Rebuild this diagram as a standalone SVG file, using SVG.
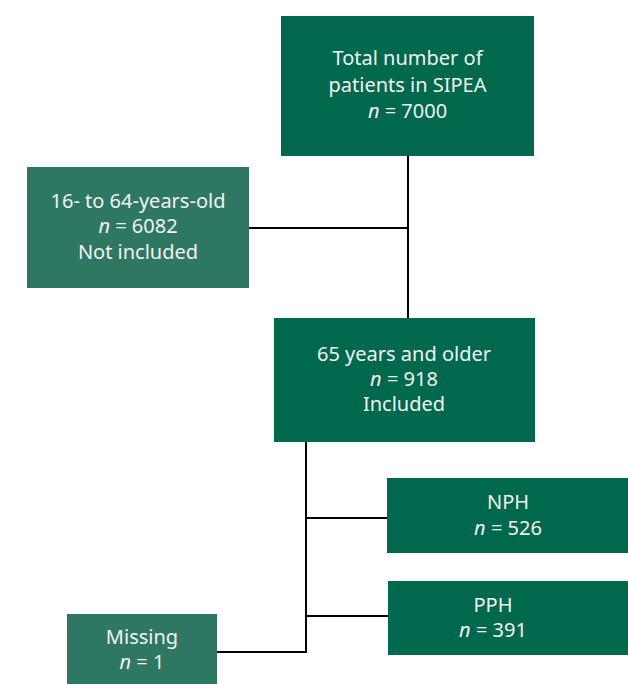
<svg xmlns="http://www.w3.org/2000/svg" width="628" height="684" viewBox="0 0 628 684">
<style>
.dark{fill:#00684c}
.light{fill:#2e7763}
text{font-family:"Noto Sans","Liberation Sans",sans-serif;font-size:20px;fill:#f2f2f2;text-anchor:middle}
.i{font-style:italic}
.c{fill:none;stroke:#000;stroke-width:2}
</style>
<rect width="628" height="684" fill="#fff"/>
<g id="connectors">
<path class="c" d="M408 156V318"/>
<path class="c" d="M249 228H408"/>
<path class="c" d="M306 442V652H217"/>
<path class="c" d="M306 518H387"/>
<path class="c" d="M306 616H388"/>
</g>
<g id="total">
<rect class="dark" x="281" y="16" width="253" height="140"/>
<text x="407.5" y="65">Total number of</text>
<text x="407.5" y="92">patients in SIPEA</text>
<text x="407.5" y="118"><tspan class="i">n</tspan> = 7000</text>
</g>
<g id="young">
<rect class="light" x="27" y="167" width="222" height="121"/>
<text x="138" y="208">16- to 64-years-old</text>
<text x="138" y="233"><tspan class="i">n</tspan> = 6082</text>
<text x="138" y="259">Not included</text>
</g>
<g id="old">
<rect class="dark" x="274" y="318" width="261" height="124"/>
<text x="404" y="361">65 years and older</text>
<text x="404" y="386"><tspan class="i">n</tspan> = 918</text>
<text x="404" y="411">Included</text>
</g>
<g id="nph">
<rect class="dark" x="387" y="478" width="241" height="75"/>
<text x="508" y="509">NPH</text>
<text x="508" y="535"><tspan class="i">n</tspan> = 526</text>
</g>
<g id="pph">
<rect class="dark" x="388" y="581" width="240" height="74"/>
<text x="493" y="612">PPH</text>
<text x="493" y="637"><tspan class="i">n</tspan> = 391</text>
</g>
<g id="missing">
<rect class="light" x="67" y="614" width="150" height="70"/>
<text x="142" y="644">Missing</text>
<text x="142" y="669"><tspan class="i">n</tspan> = 1</text>
</g>
</svg>
